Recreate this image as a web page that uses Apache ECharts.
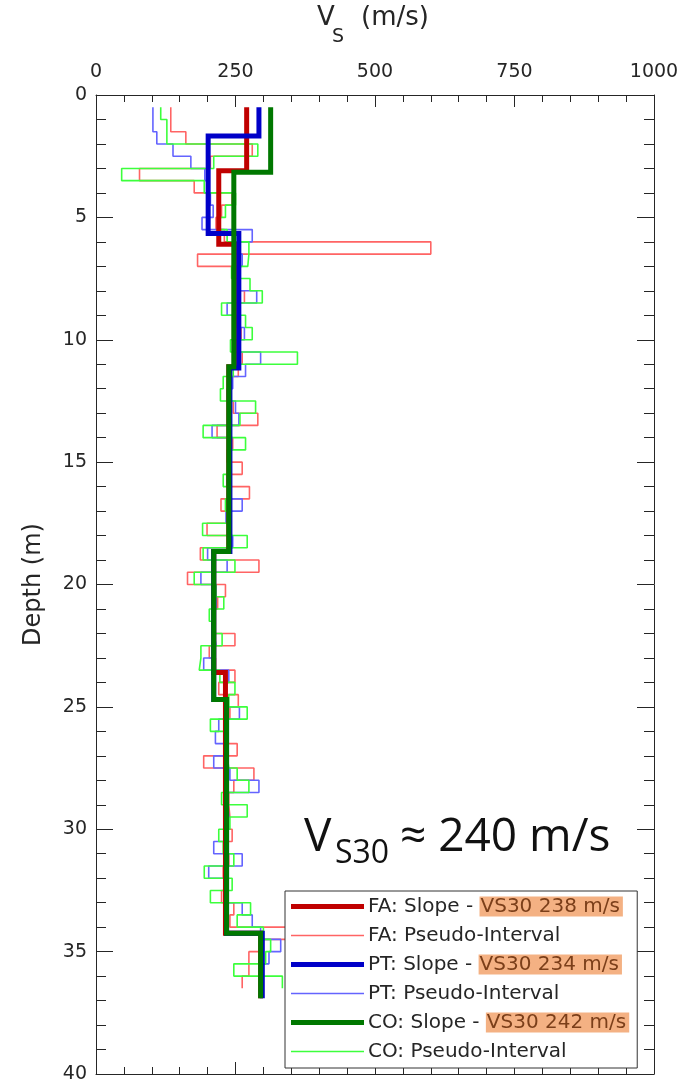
<!DOCTYPE html>
<html>
<head>
<meta charset="utf-8">
<title>Vs profile</title>
<script src="https://cdn.jsdelivr.net/npm/echarts@6/dist/echarts.min.js"></script>
<style>
html, body { margin: 0; padding: 0; background: #fff; }
#main { width: 700px; height: 1085px; }
</style>
</head>
<body>
<div id="main"></div>
<script>
// layer boundaries of the pseudo-interval profiles (m)
var bandDepth = [0.5, 1, 1.5, 2, 2.5, 3, 3.5, 4, 4.5, 5, 5.5, 6, 6.5, 7, 7.5, 8, 8.5, 9, 9.5, 10,
  10.5, 11, 11.5, 12, 12.5, 13, 13.5, 14, 14.5, 15, 15.5, 16, 16.5, 17, 17.5, 18, 18.5, 19, 19.5, 20,
  20.5, 21, 21.5, 22, 22.5, 23, 23.5, 24, 24.5, 25, 25.5, 26, 26.5, 27, 27.5, 28, 28.5, 29, 29.5, 30,
  30.5, 31, 31.5, 32, 32.5, 33, 33.5, 34, 34.5, 35, 35.5, 36, 36.5];

// pseudo-interval Vs (m/s), one value per layer
var faPseudo = [134, 134, 161, 280, 205, 78, 176, 244, 225, 215, 230, 600, 182, 250, 255, 266, 248, 252, 260, 250,
  262, 255, 238, 240, 246, 290, 217, 245, 235, 262, 240, 275, 224, 238, 199, 240, 187, 292, 164, 232,
  218, 212, 210, 249, 203, 214, 249, 220, 255, 240, 230, 235, 253, 193, 283, 247, 238, 240, 236, 244,
  232, 238, 228, 236, 225, 247, 240, 360, 300, 274, 274, 262];
var ptPseudo = [102, 102, 109, 138, 170, 195, 200, 205, 210, 190, 280, 256, 262, 250, 255, 288, 235, 255, 266, 256,
  295, 268, 245, 235, 250, 256, 208, 240, 238, 240, 235, 240, 262, 233, 238, 245, 200, 235, 188, 215,
  215, 210, 212, 215, 210, 193, 238, 230, 235, 257, 220, 214, 235, 211, 240, 292, 236, 238, 234, 232,
  211, 262, 202, 232, 230, 262, 280, 295, 331, 310, 300, 295];
var coPseudo = [116, 127, 127, 290, 211, 46, 194, 250, 232, 222, 235, 274, 272, 243, 276, 298, 225, 268, 280, 241,
  361, 246, 228, 223, 286, 258, 192, 268, 240, 240, 228, 242, 232, 240, 191, 271, 192, 249, 176, 215,
  229, 203, 208, 226, 188, 185, 222, 249, 238, 271, 205, 232, 235, 238, 253, 274, 225, 271, 240, 220,
  228, 247, 194, 244, 205, 277, 253, 300, 313, 304, 247, 334];

// slope (layered) profiles
var faSlopeDepth = [0.5, 3.1, 6.1, 11.1, 18.65, 23.6, 34.25, 36.9];
var faSlopeVs = [270, 220, 248, 238, 211, 232, 295];
var ptSlopeDepth = [0.5, 1.68, 5.66, 11.15, 18.65, 24.7, 34.25, 36.9];
var ptSlopeVs = [292, 201, 256, 240, 211, 234, 298];
var coSlopeDepth = [0.5, 3.16, 11.1, 18.65, 24.7, 34.25, 36.9];
var coSlopeVs = [313, 247, 238, 211, 234, 295];

var vs30 = [238, 234, 242];
var sites = ['FA', 'PT', 'CO'];
var slopeColors = ['#c00000', '#0000c8', '#007800'];
var pseudoColors = ['#ff6464', '#6464ff', '#3cff3c'];

function steps(depth, vs) {
  var pts = [];
  for (var i = 0; i < vs.length; i++) {
    pts.push([vs[i], depth[i]]);
    pts.push([vs[i], depth[i + 1]]);
  }
  return pts;
}

var slopeData = [steps(faSlopeDepth, faSlopeVs), steps(ptSlopeDepth, ptSlopeVs), steps(coSlopeDepth, coSlopeVs)];
var pseudoData = [steps(bandDepth, faPseudo), steps(bandDepth, ptPseudo), steps(bandDepth, coPseudo)];

var series = [];
var legendData = [];
var labels = {};
sites.forEach(function (s, i) {
  var sName = s + ': Slope';
  var pName = s + ': Pseudo-Interval';
  labels[sName] = s + ': Slope - {hl|VS30 ' + vs30[i] + ' m/s}';
  labels[pName] = pName;
  // legend samples: a thick bar for the slope, a thin one for the pseudo-interval
  legendData.push({ name: sName, icon: 'path://M0,0L73,0L73,5L0,5Z' });
  legendData.push({ name: pName, icon: 'path://M0,0L73,0L73,1.6L0,1.6Z' });
  series.push({
    name: pName, type: 'line', data: pseudoData[i], symbol: 'none', z: 2,
    lineStyle: { color: pseudoColors[i], width: 1.6 }, itemStyle: { color: pseudoColors[i] }
  });
});
sites.forEach(function (s, i) {
  series.push({
    name: s + ': Slope', type: 'line', data: slopeData[i], symbol: 'none', z: 3,
    lineStyle: { color: slopeColors[i], width: 5, join: 'miter' }, itemStyle: { color: slopeColors[i] }
  });
});

var axisColor = '#262626';
var font = 'DejaVu Sans';

function xAx(pos, showLabel) {
  return {
    type: 'value', position: pos, min: 0, max: 1000, interval: 250,
    axisLine: { show: true, onZero: false, lineStyle: { color: axisColor, width: 1 } },
    axisTick: { show: true, inside: true, length: 12, lineStyle: { color: axisColor } },
    minorTick: { show: true, splitNumber: 5, length: 7, lineStyle: { color: axisColor } },
    axisLabel: { show: showLabel, fontFamily: font, fontSize: 19, color: axisColor, margin: 13,
      formatter: function (v) { return String(v); } },
    splitLine: { show: false }
  };
}
function yAx(pos, showLabel) {
  return {
    type: 'value', position: pos, inverse: true, min: 0, max: 40, interval: 5,
    axisLine: { show: true, onZero: false, lineStyle: { color: axisColor, width: 1 } },
    axisTick: { show: true, inside: true, length: 17, lineStyle: { color: axisColor } },
    minorTick: { show: true, splitNumber: 5, length: 10, lineStyle: { color: axisColor } },
    axisLabel: { show: showLabel, fontFamily: font, fontSize: 19, color: axisColor, margin: 9 },
    splitLine: { show: false }
  };
}

var yLeft = yAx('left', true);
yLeft.name = 'Depth (m)';
yLeft.nameLocation = 'middle';
yLeft.nameRotate = 90;
yLeft.nameGap = 50;
yLeft.nameTextStyle = { fontFamily: font, fontSize: 24, color: axisColor };

var chart = echarts.init(document.getElementById('main'));
chart.setOption({
  animation: false,
  backgroundColor: '#fff',
  grid: { left: 96, right: 46, top: 95, bottom: 11 },
  xAxis: [xAx('top', true), xAx('bottom', false)],
  yAxis: [yLeft, yAx('right', false)],
  legend: {
    data: legendData,
    orient: 'vertical',
    left: 285, top: 891,
    padding: [1, 8, 2, 6],
    itemGap: 0,
    itemWidth: 73, itemHeight: 29,
    backgroundColor: '#fff',
    borderColor: '#333', borderWidth: 1,
    selectedMode: false,
    formatter: function (name) { return labels[name]; },
    textStyle: {
      fontFamily: font, fontSize: 20, color: axisColor, lineHeight: 29, padding: [0, 0, 0, -1],
      rich: { hl: { fontFamily: font, fontSize: 20, color: '#7b3f1a', backgroundColor: '#f4b183', lineHeight: 29, padding: [0, 3, 0, 1] } }
    }
  },
  graphic: [
    { type: 'text', left: 317, top: 5, style: { text: 'V', font: '26px "DejaVu Sans"', fill: axisColor } },
    { type: 'text', left: 332, top: 28, style: { text: 'S', font: '19px "DejaVu Sans"', fill: axisColor } },
    { type: 'text', left: 361, top: 5, style: { text: '(m/s)', font: '26px "DejaVu Sans"', fill: axisColor } },
    { type: 'text', left: 304, top: 815, style: { text: 'V', font: '46px "Open Sans"', fill: '#111' } },
    { type: 'text', left: 335, top: 838, style: { text: 'S30', font: '32px "Open Sans"', fill: '#111' } },
    { type: 'text', left: 400, top: 815, style: { text: '\u2248 240 m/s', font: '46px "Open Sans"', fill: '#111' } }
  ],
  series: series
});
</script>
</body>
</html>
